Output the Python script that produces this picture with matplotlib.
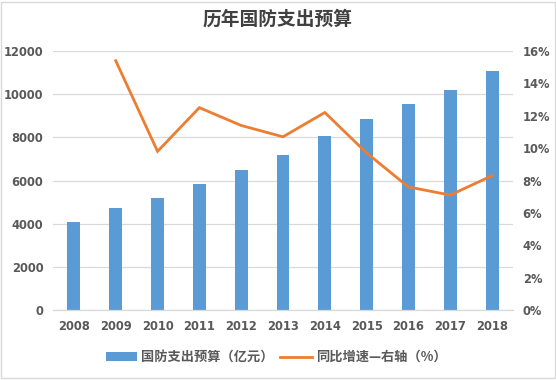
import matplotlib
matplotlib.use("Agg")
import matplotlib.pyplot as plt
from matplotlib.ticker import FuncFormatter

years = ["2008", "2009", "2010", "2011", "2012", "2013", "2014", "2015", "2016", "2017", "2018"]
budget = [4099, 4729, 5191, 5836, 6503, 7202, 8082, 8869, 9544, 10211, 11069]
growth_years = ["2009", "2010", "2011", "2012", "2013", "2014", "2015", "2016", "2017", "2018"]
growth = [15.4, 9.8, 12.5, 11.4, 10.7, 12.2, 9.7, 7.6, 7.1, 8.3]

title = "历年国防支出预算"
bar_label = "国防支出预算（亿元）"
line_label = "同比增速—右轴（%）"

plt.rcParams['font.family'] = ['DejaVu Sans', 'Noto Sans CJK SC']
TXT = '#595959'

fig = plt.figure(figsize=(5.56, 3.80), dpi=100)
ax = fig.add_axes([53/556, 1-310/380, 460/556, 259/380])
ax2 = ax.twinx()

x = list(range(len(years)))
gx = [years.index(y) for y in growth_years]

ax.bar(x, budget, width=0.31, color='#5B9BD5', zorder=2, label=bar_label)
ax2.plot(gx, growth, color='#ED7D31', lw=2.0, zorder=3, label=line_label,
         solid_joinstyle='miter')

ax.set_xlim(-0.5, len(years)-0.5)
ax.set_ylim(0, 12000)
ax.set_yticks(range(0, 12001, 2000))
ax2.set_ylim(0, 16)
ax2.set_yticks(range(0, 17, 2))
ax2.yaxis.set_major_formatter(FuncFormatter(lambda v, p: f"{int(v)}%"))
ax.set_xticks(x)
ax.set_xticklabels(years)

ax.grid(axis='y', color='#d9d9d9', lw=0.9, zorder=0)
ax.set_axisbelow(True)
for a in (ax, ax2):
    for s in ('top', 'left', 'right'):
        a.spines[s].set_visible(False)
    a.spines['bottom'].set_color('#d9d9d9')
    a.spines['bottom'].set_linewidth(0.9)
ax2.spines['bottom'].set_visible(False)

ax.tick_params(axis='y', length=0, pad=7, labelsize=8.3, labelcolor=TXT)
ax.tick_params(axis='x', length=0, pad=7, labelsize=8.3, labelcolor=TXT)
ax2.tick_params(axis='y', length=0, pad=7, labelsize=8.3, labelcolor=TXT)
for lab in ax.get_xticklabels() + ax.get_yticklabels() + ax2.get_yticklabels():
    lab.set_fontweight('semibold')

fig.text(0.5, 1-19/380, title, ha='center', va='center', fontsize=13.5,
         fontweight='bold', color='#404040', family=['Noto Sans CJK SC', 'DejaVu Sans'])

h1, l1 = ax.get_legend_handles_labels()
h2, l2 = ax2.get_legend_handles_labels()
leg = fig.legend(h1 + h2, l1 + l2, loc='center', bbox_to_anchor=(276/556, 1-357/380),
                 ncol=2, frameon=False, handlelength=2.4, handleheight=0.6,
                 columnspacing=0.5, handletextpad=0.3,
                 prop={'family': ['Noto Sans CJK SC', 'DejaVu Sans'], 'size': 9.5, 'weight': 'bold'})
for t in leg.get_texts():
    t.set_color(TXT)

fig.patches.append(plt.Rectangle((0.002, 0.004), 0.996, 0.992, transform=fig.transFigure,
                                 fill=False, edgecolor='#d9d9d9', lw=1.0))

fig.savefig('out.png', dpi=100)
